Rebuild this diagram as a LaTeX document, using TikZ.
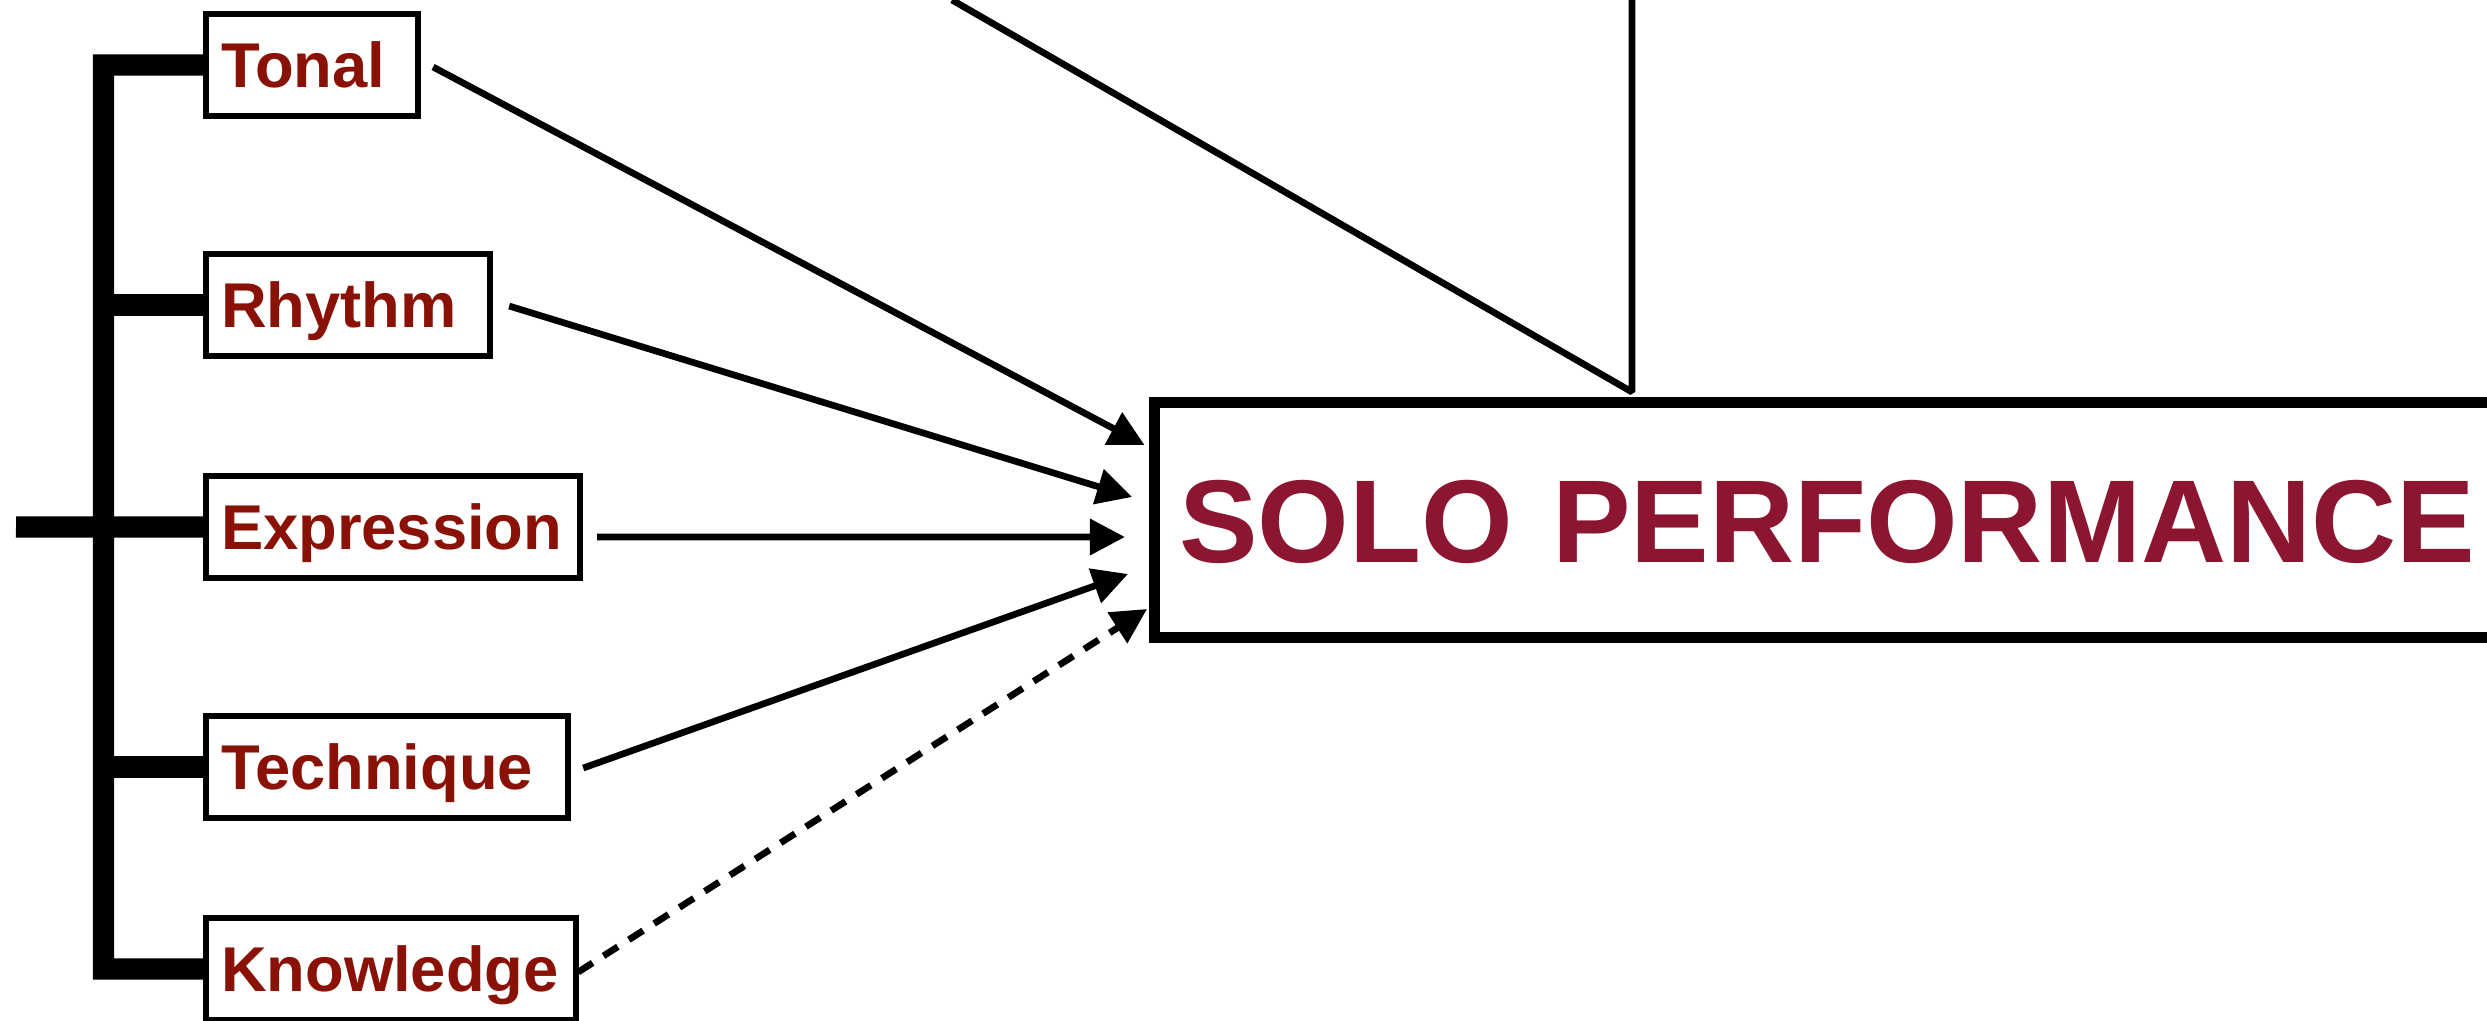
\documentclass[tikz,border=0pt]{standalone}
\usepackage{fontspec}
\setmainfont{Liberation Sans}
\usetikzlibrary{arrows.meta,calc}
\definecolor{labelred}{RGB}{137,17,5}
\definecolor{solored}{RGB}{140,22,48}
\tikzset{
  labelbox/.style={draw, line width=1.6pt, outer sep=0pt, anchor=north west, inner xsep=0.15cm, inner ysep=0pt, minimum height=1.02cm, text height=13pt, text depth=0pt, align=left, text=labelred, font=\fontsize{18}{20}\selectfont\bfseries},
  solobox/.style={draw, line width=3.1pt, outer sep=0pt, anchor=west, inner xsep=0.245cm, inner ysep=0pt, minimum height=2.35cm, text width=13.6cm, text height=24pt, text depth=0pt, align=left, text=solored, font=\fontsize{33.5}{36}\selectfont\bfseries},
  treeline/.style={line width=6pt},
  flowarrow/.style={-{Triangle[length=10pt, width=10pt]}, line width=1.9pt},
  linkline/.style={line width=1.9pt, line join=bevel}
}

\begin{document}
\begin{tikzpicture}[x=0.01cm, y=-0.01cm]
  \useasboundingbox (0,0) rectangle (2487,1021);
  \clip (0,0) rectangle (2487,1021);
  % skill boxes
  \node[labelbox, text width=1.82cm] (tonal) at (206,14) {Tonal};
  \node[labelbox, text width=2.54cm] (rhythm) at (206,254) {Rhythm};
  \node[labelbox, text width=3.44cm] (expression) at (206,476) {Expression};
  \node[labelbox, text width=3.32cm] (technique) at (206,716) {Technique};
  \node[labelbox, text width=3.40cm] (knowledge) at (206,918) {Knowledge};
  \node[solobox] (solo) at (1154.5,520) {SOLO PERFORMANCE};
  % bracket on the left
  \coordinate (spinetop) at (103.5,65);
  \coordinate (spinebot) at (103.5,969);
  \coordinate (root) at (16,527);
  \draw[treeline] (tonal.west) -- (spinetop) -- (spinebot) -- (knowledge.west);
  \draw[treeline] (rhythm.west) -- (rhythm.west -| spinetop);
  \draw[treeline] (expression.west) -- (root);
  \draw[treeline] (technique.west) -- (technique.west -| spinetop);
  % arrows into the performance
  \draw[flowarrow] ($(tonal.east)+(15,2)$) -- ($(solo.west)+(-10,-75)$);
  \draw[flowarrow] ($(rhythm.east)+(19,1)$) -- ($(solo.west)+(-22.5,-23)$);
  \draw[flowarrow] ($(expression.east)+(17,10)$) -- ($(solo.west)+(-29.5,17)$);
  \draw[flowarrow] ($(technique.east)+(15,1)$) -- ($(solo.west)+(-26.5,54)$);
  \draw[flowarrow, dash pattern=on 0.17cm off 0.13cm] ($(knowledge.east)+(2,3)$) -- ($(solo.west)+(-7.5,89)$);
  % link coming from above
  \coordinate (feedtop) at (952,0);
  \coordinate (feedvee) at (1632,392);
  \draw[linkline] (feedtop) -- (feedvee) -- (feedvee |- feedtop);
\end{tikzpicture}
\end{document}
